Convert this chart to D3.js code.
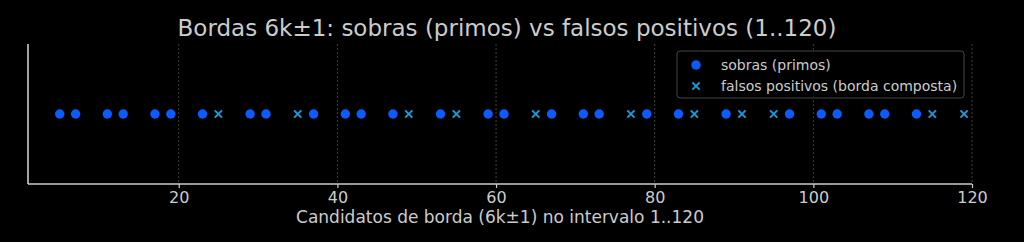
<!DOCTYPE html>
<html><head><meta charset="utf-8">
<script src="https://cdn.jsdelivr.net/npm/d3@7"></script>
<style>body{margin:0;background:#000}svg{display:block}</style>
</head><body>
<script>
const primes = [5,7,11,13,17,19,23,29,31,37,41,43,47,53,59,61,67,71,73,79,83,89,97,101,103,107,109,113];
const composites = [25,35,49,55,65,77,85,91,95,115,119];
const xTicks = [20,40,60,80,100,120];
const title = "Bordas 6k±1: sobras (primos) vs falsos positivos (1..120)";
const xLabel = "Candidatos de borda (6k±1) no intervalo 1..120";
const legendLabels = ["sobras (primos)", "falsos positivos (borda composta)"];

const W = 1024, H = 242;
const m = {l: 28, r: 52, t: 44, b: 58};
const svg = d3.select("body").append("svg").attr("width", W).attr("height", H).style("background", "#000");
const x = d3.scaleLinear().domain([1, 120]).range([m.l, W - m.r]);
const y = d3.scaleLinear().domain([-1, 1]).range([H - m.b, m.t]);
const font = "DejaVu Sans, sans-serif";
const txt = "#cccccc";
const blue = "#0a5cff", cyan = "#1e9ad6";

// grid
svg.append("g").selectAll("line").data(xTicks).join("line")
  .attr("x1", d => x(d)).attr("x2", d => x(d))
  .attr("y1", m.t).attr("y2", H - m.b)
  .attr("stroke", "#888").attr("stroke-width", 0.8).attr("stroke-dasharray", "2,2").attr("opacity", 0.6);

// axes
const xa = svg.append("g").attr("transform", `translate(0,${H - m.b})`)
  .call(d3.axisBottom(x).tickValues(xTicks).tickSize(4).tickPadding(4).tickFormat(d3.format("d")));
xa.select(".domain").attr("stroke", "#cccccc").attr("stroke-width", 1.6).attr("d", `M${x(1)},0H${x(120)}`);
xa.selectAll(".tick line").attr("stroke", "#cccccc").attr("stroke-width", 1.2);
xa.selectAll(".tick text").attr("fill", txt).attr("font-family", font).attr("font-size", 16);

svg.append("line").attr("x1", x(1)).attr("x2", x(1)).attr("y1", m.t).attr("y2", H - m.b)
  .attr("stroke", "#cccccc").attr("stroke-width", 1.6);

// primes
svg.append("g").selectAll("circle").data(primes).join("circle")
  .attr("cx", d => x(d)).attr("cy", y(0)).attr("r", 4.7).attr("fill", blue);

// composites
const xm = (g, s) => g.append("path").attr("d", `M${-s},${-s}L${s},${s}M${-s},${s}L${s},${-s}`)
  .attr("stroke", cyan).attr("stroke-width", 2).attr("fill", "none");
svg.append("g").selectAll("g").data(composites).join("g")
  .attr("transform", d => `translate(${x(d)},${y(0)})`)
  .each(function(){ xm(d3.select(this), 3.6); });

// title
svg.append("text").attr("x", 507).attr("y", 36).attr("text-anchor", "middle")
  .attr("fill", txt).attr("font-family", font).attr("font-size", 23).text(title);
svg.append("text").attr("x", 500).attr("y", 223).attr("text-anchor", "middle")
  .attr("fill", txt).attr("font-family", font).attr("font-size", 17).text(xLabel);

// legend
const lg = svg.append("g");
lg.append("rect").attr("x", 677).attr("y", 51).attr("width", 287).attr("height", 47).attr("rx", 3)
  .attr("fill", "#000").attr("fill-opacity", 0.8).attr("stroke", "#444").attr("stroke-width", 1);
lg.append("circle").attr("cx", 696).attr("cy", 65).attr("r", 4.7).attr("fill", blue);
xm(lg.append("g").attr("transform", "translate(696,86)"), 3.6);
lg.selectAll("text").data(legendLabels).join("text")
  .attr("x", 721).attr("y", (d, i) => 70 + i * 21)
  .attr("fill", txt).attr("font-family", font).attr("font-size", 14).text(d => d);
</script>
</body></html>
